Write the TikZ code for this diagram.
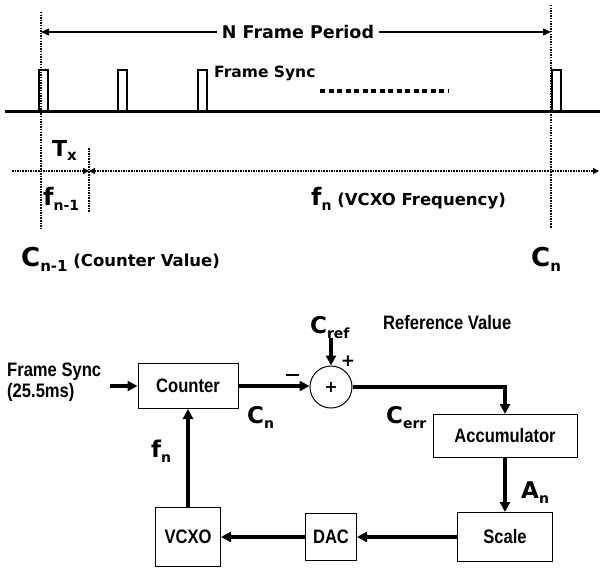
\documentclass[tikz,border=0pt]{standalone}
\usepackage{fontspec}
\setmainfont{DejaVu Sans}
\newfontfamily\narrowf[FakeStretch=0.85]{Liberation Sans}
\usetikzlibrary{arrows.meta}
\newcommand{\fsz}[1]{\fontsize{#1}{#1}\selectfont}
\newcommand{\lsub}[2]{\raisebox{-5pt}{\fsz{#1}#2}}
\tikzset{
  dots/.style={line width=1.7pt, dash pattern=on 1.5pt off 1.1pt},
  pulse/.style={line width=1.8pt},
  baseln/.style={line width=3pt},
  blk/.style={draw, line width=1pt, inner sep=0pt, font=\narrowf\bfseries\fsz{19.5}},
  flow/.style={line width=3.4pt, -{Triangle[length=10pt,width=10pt]}},
  tipar/.style={line width=1.5pt, -{Triangle[length=8pt,width=7pt]}},
  smalltip/.style={-{Triangle[length=6pt,width=6pt]}},
  lbl/.style={font=\bfseries, inner sep=0pt},
  nlbl/.style={font=\narrowf\bfseries\fsz{19.5}, inner sep=0pt}
}
\begin{document}
\begin{tikzpicture}[x=1pt,y=-1pt]
\useasboundingbox (0,0) rectangle (601,572);
% ---------- timing diagram ----------
\coordinate (vlTop) at (41,12);
\coordinate (vlBot) at (41,230);
\coordinate (vrTop) at (551,5);
\coordinate (vrBot) at (551,228);
\draw[dots] (vlTop) -- (vlBot);
\draw[dots] (vrTop) -- (vrBot);
\node[lbl, font=\bfseries\fsz{17.5}, inner sep=5pt] (nfp) at (298,32) {N Frame Period};
\coordinate (nfpL) at (41,32);
\coordinate (nfpR) at (551,32);
\draw[tipar] (nfp.west) -- (nfpL);
\draw[tipar] (nfp.east) -- (nfpR);
% baseline and pulses
\coordinate (b0) at (5,112);
\coordinate (b1) at (600,112);
\draw[baseln] (b0) -- (b1);
\draw[pulse] (39,112) -- (39,70) -- (48,70) -- (48,112);
\draw[pulse] (118,112) -- (118,70) -- (127,70) -- (127,112);
\draw[pulse] (198,112) -- (198,70) -- (207,70) -- (207,112);
\draw[pulse] (552,112) -- (552,70) -- (561,70) -- (561,112);
\node[lbl, font=\bfseries\fsz{15.5}, anchor=west] (fsync) at (214,73) {Frame Sync};
\coordinate (dA) at (320,91);
\coordinate (dB) at (448,91);
\draw[line width=4.5pt, dash pattern=on 5pt off 3.5pt] (dA) -- (dB);
% horizontal time axis
\coordinate (hL) at (12,171);
\coordinate (hM) at (89,171);
\coordinate (hR) at (599,171);
\draw[dots, smalltip] (hL) -- (hM);
\draw[dots, {Triangle[length=6pt,width=6pt]}-{Triangle[length=6pt,width=6pt]}] (hM) -- (hR);
\coordinate (txTop) at (89,148);
\coordinate (txBot) at (89,212);
\draw[dots] (txTop) -- (txBot);
\node[lbl, anchor=base west] (tx) at (52,156) {\fsz{22}T\lsub{15}{x}};
\node[lbl, anchor=base west] (fn1) at (43,205) {\fsz{24}f\lsub{14}{n-1}};
\node[lbl, anchor=base west] (cn1) at (21,266) {\fsz{26}C\lsub{15}{n-1}\fsz{16.5} (Counter Value)};
\node[lbl, anchor=base west] (fnv) at (311,205) {\fsz{24}f\lsub{14}{n}\fsz{16.5} (VCXO Frequency)};
\node[lbl, anchor=base west] (cnr) at (531,266) {\fsz{26}C\lsub{15}{n}};
% ---------- block diagram ----------
\node[nlbl, align=left, anchor=north west] (fsin) at (7,363) {Frame Sync\\[1pt](25.5ms)};
\node[blk, minimum width=100pt, minimum height=45pt] (counter) at (188,386) {Counter};
\node[draw, circle, line width=1pt, minimum size=42pt, inner sep=0pt, font=\bfseries\fsz{16}] (sum) at (331,387) {+};
\node[blk, minimum width=144pt, minimum height=43pt] (acc) at (505,436) {Accumulator};
\node[blk, minimum width=95pt, minimum height=49pt] (scale) at (505,537) {Scale};
\node[blk, minimum width=51pt, minimum height=47pt] (dac) at (331,537) {DAC};
\node[blk, minimum width=65pt, minimum height=59pt] (vcxo) at (188,537) {VCXO};
\node[lbl, anchor=base west] (cref) at (310,333) {\fsz{23}C\lsub{14}{ref}};
\node[nlbl, anchor=base west] (refv) at (383,329) {Reference Value};
\node[lbl, font=\bfseries\fsz{17}] (plus) at (348,361) {+};
\node[lbl] (minus) at (292,375) {\rule{13pt}{1.8pt}};
\node[lbl, anchor=base west] (cn) at (247,423) {\fsz{23}C\lsub{14}{n}};
\node[lbl, anchor=base west] (fn) at (151,457) {\fsz{23}f\lsub{14}{n}};
\node[lbl, anchor=base west] (cerr) at (386,423) {\fsz{23}C\lsub{14}{err}};
\node[lbl, anchor=base west] (an) at (521,498) {\fsz{23}A\lsub{14}{n}};
\coordinate (fsStart) at (110,386);
\coordinate (crefStart) at (331,338);
\draw[flow] (fsStart) -- (counter.west);
\draw[flow] (counter.east) -- (counter.east -| sum.west);
\draw[flow] (crefStart) -- (sum.north);
\draw[flow] (sum.east) -| (acc.north);
\draw[flow] (acc.south) -- (scale.north);
\draw[flow] (scale.west) -- (dac.east);
\draw[flow] (dac.west) -- (vcxo.east);
\draw[flow] (vcxo.north) -- (counter.south);
\end{tikzpicture}
\end{document}
